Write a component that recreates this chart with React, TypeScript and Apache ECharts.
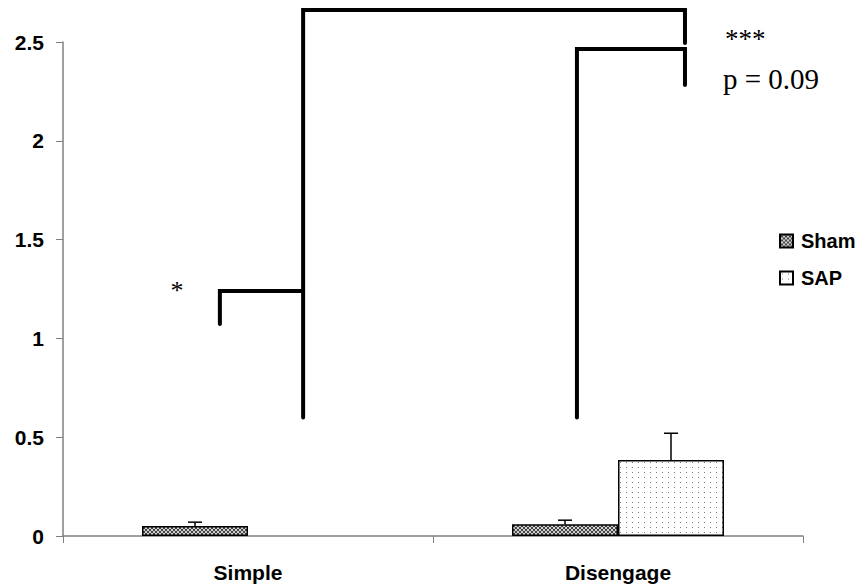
import React, { useEffect, useRef } from "react";
import * as echarts from "echarts";

// ---- Data ----
const categories = ["Simple", "Disengage"];
const seriesNames = ["Sham", "SAP"];
const shamValues: (number | null)[] = [0.05, 0.06];
const sapValues: (number | null)[] = [null, 0.385];
const shamErrTop: (number | null)[] = [0.07, 0.08];
const sapErrTop: (number | null)[] = [null, 0.52];
const yMin = 0;
const yMax = 2.5;
const yInterval = 0.5;

// Significance brackets, in data coordinates (x: 0..2 across the two categories)
const bracketStar: number[][] = [[0.424, 1.073], [0.424, 1.24], [0.649, 1.24]];
const bracketTriple: number[][] = [[0.649, 0.6], [0.649, 2.662], [1.681, 2.662], [1.681, 2.495]];
const bracketP: number[][] = [[1.389, 0.6], [1.389, 2.465], [1.681, 2.465], [1.681, 2.282]];
const annotationTexts = ["*", "***", "p = 0.09"];

function makeShamPattern(): HTMLCanvasElement {
  const c = document.createElement("canvas");
  c.width = 4;
  c.height = 4;
  const g = c.getContext("2d")!;
  g.fillStyle = "#d0d0d0";
  g.fillRect(0, 0, 4, 4);
  g.fillStyle = "#454545";
  for (let i = 0; i < 4; i++) {
    g.fillRect(i, i, 1, 1);
    g.fillRect(3 - i, i, 1, 1);
  }
  return c;
}

function makeSapPattern(): HTMLCanvasElement {
  const c = document.createElement("canvas");
  c.width = 6;
  c.height = 5;
  const g = c.getContext("2d")!;
  g.fillStyle = "#ffffff";
  g.fillRect(0, 0, 6, 5);
  g.fillStyle = "#777777";
  g.fillRect(2, 2, 1, 1);
  return c;
}

export default function App() {
  const ref = useRef<HTMLDivElement>(null);

  useEffect(() => {
    if (!ref.current) return;
    const chart = echarts.init(ref.current, undefined, { renderer: "svg" });
    const barWidth = 106;
    const sansBold = {
      fontFamily: "Liberation Sans, Arial, sans-serif",
      fontWeight: "bold" as const,
      color: "#000",
    };
    const serif = "Liberation Serif, Times New Roman, serif";

    const errData: any[] = [];
    shamValues.forEach((v, i) => {
      if (v != null && shamErrTop[i] != null) errData.push([i, v, shamErrTop[i], 0]);
    });
    sapValues.forEach((v, i) => {
      if (v != null && sapErrTop[i] != null) errData.push([i, v, sapErrTop[i], 1]);
    });

    const bracketStyle = { color: "#000", width: 4, cap: "round" as const, join: "miter" as const };
    const bracketSeries = [bracketStar, bracketTriple, bracketP].map((d) => ({
      type: "line" as const,
      xAxisIndex: 1,
      yAxisIndex: 0,
      data: d,
      symbol: "none",
      clip: false,
      silent: true,
      lineStyle: bracketStyle,
      z: 5,
    }));

    chart.setOption({
      animation: false,
      grid: { left: 63, top: 42, width: 740, height: 494 },
      legend: {
        orient: "vertical",
        left: 774,
        top: 226,
        itemWidth: 13,
        itemHeight: 13,
        itemGap: 17,
        icon: "rect",
        data: seriesNames,
        textStyle: { ...sansBold, fontSize: 20, padding: [0, 0, 0, 3] },
        selectedMode: false,
      },
      xAxis: [
        {
          type: "category",
          data: categories,
          axisLine: { lineStyle: { color: "#808080", width: 1.5 } },
          axisTick: { show: true, length: 7, lineStyle: { color: "#808080" } },
          axisLabel: { ...sansBold, fontSize: 21, margin: 26 },
        },
        { type: "value", min: 0, max: 2, show: false },
      ],
      yAxis: {
        type: "value",
        min: yMin,
        max: yMax,
        interval: yInterval,
        axisLine: { show: true, lineStyle: { color: "#808080", width: 1.5 } },
        axisTick: { show: true, length: 7, lineStyle: { color: "#808080" } },
        splitLine: { show: false },
        axisLabel: { ...sansBold, fontSize: 21, margin: 19 },
      },
      series: [
        {
          name: seriesNames[0],
          type: "bar",
          data: shamValues,
          barWidth,
          barGap: "0%",
          itemStyle: {
            color: { image: makeShamPattern(), repeat: "repeat" },
            borderColor: "#000",
            borderWidth: 1.5,
          },
        },
        {
          name: seriesNames[1],
          type: "bar",
          data: sapValues,
          barWidth,
          barGap: "0%",
          itemStyle: {
            color: { image: makeSapPattern(), repeat: "repeat" },
            borderColor: "#000",
            borderWidth: 1.5,
          },
        },
        {
          type: "custom",
          xAxisIndex: 0,
          yAxisIndex: 0,
          data: errData,
          silent: true,
          z: 4,
          renderItem: (params: any, api: any) => {
            const cat = api.value(0);
            const base = api.coord([cat, api.value(1)]);
            const top = api.coord([cat, api.value(2)]);
            const off = api.value(3) === 0 ? -barWidth / 2 : barWidth / 2;
            const x = base[0] + off;
            const st = { stroke: "#000", lineWidth: 1.5 };
            return {
              type: "group",
              children: [
                { type: "line", shape: { x1: x, y1: base[1], x2: x, y2: top[1] }, style: st },
                { type: "line", shape: { x1: x - 7, y1: top[1], x2: x + 7, y2: top[1] }, style: st },
              ],
            };
          },
        },
        ...bracketSeries,
      ],
      graphic: [
        {
          type: "text",
          x: 177,
          y: 290,
          style: {
            text: annotationTexts[0],
            font: `26px ${serif}`,
            fill: "#000",
            align: "center",
            verticalAlign: "middle",
          },
        },
        {
          type: "text",
          x: 725,
          y: 39,
          style: {
            text: annotationTexts[1],
            font: `27px ${serif}`,
            fill: "#000",
            align: "left",
            verticalAlign: "middle",
          },
        },
        {
          type: "text",
          x: 723,
          y: 79,
          style: {
            text: annotationTexts[2],
            font: `29px ${serif}`,
            fill: "#000",
            align: "left",
            verticalAlign: "middle",
          },
        },
      ],
    });
    return () => chart.dispose();
  }, []);

  return <div ref={ref} style={{ width: 860, height: 586, position: "absolute", left: 0, top: 0 }} />;
}
